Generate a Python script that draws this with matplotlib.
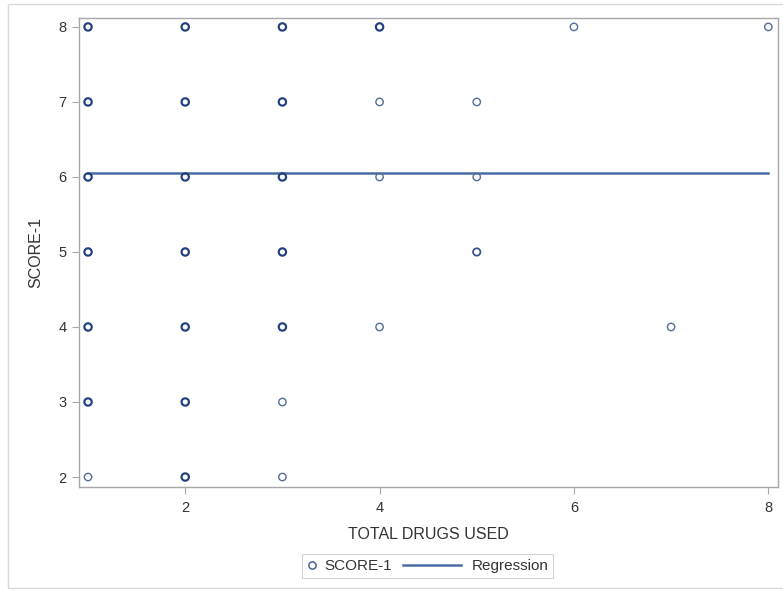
import matplotlib
matplotlib.use("Agg")
import matplotlib.pyplot as plt
from matplotlib.patches import Rectangle
from matplotlib.lines import Line2D
from matplotlib.legend_handler import HandlerLine2D
from matplotlib.colors import to_rgb
import numpy as np

plt.rcParams['font.family'] = ['Liberation Sans', 'DejaVu Sans']

# observed (drugs used, score) pairs and how many subjects share each pair
drugs = [1, 1, 1, 1, 1, 1, 1,
         2, 2, 2, 2, 2, 2, 2,
         3, 3, 3, 3, 3, 3, 3,
         4, 4, 4, 4,
         5, 5, 5,
         6, 7, 8]
score = [8, 7, 6, 5, 4, 3, 2,
         8, 7, 6, 5, 4, 3, 2,
         8, 7, 6, 5, 4, 3, 2,
         8, 7, 6, 4,
         7, 6, 5,
         8, 4, 8]
count = [3, 3, 3, 3, 3, 3, 1,
         3, 3, 3, 3, 3, 3, 3,
         3, 3, 3, 3, 3, 1, 1,
         3, 1, 1, 1,
         1, 1, 2,
         1, 1, 1]

# fitted regression line
reg_intercept = 6.05
reg_slope = 0.0
reg_range = [1, 8]

xticks = [2, 4, 6, 8]
yticks = [2, 3, 4, 5, 6, 7, 8]

dark_col = np.array(to_rgb("#1f3f7c"))
light_col = np.array(to_rgb("#536c9a"))
line_col = "#4a6ca6"
text_col = "#333333"
axis_col = "#a8a8a8"


class WideLine(HandlerLine2D):
    # legend line that reaches back into the column gap, so the marker
    # entry can keep a short handle while the line entry gets a long one
    def __init__(self, extra, trim, **kw):
        super().__init__(**kw)
        self.extra = extra
        self.trim = trim

    def create_artists(self, legend, orig_handle, xdescent, ydescent,
                       width, height, fontsize, trans):
        y = height / 2 - ydescent
        x0 = -xdescent - self.extra * fontsize
        x1 = -xdescent + width - self.trim * fontsize
        line = Line2D([x0, x1], [y, y])
        self.update_prop(line, orig_handle, legend)
        line.set_transform(trans)
        return [line]


fig = plt.figure(figsize=(7.83, 5.90), dpi=100)
ax = fig.add_axes([0.1009, 0.1746, 0.8927, 0.795])

# stacked points print heavier and darker than single ones
cnt = np.array(count, dtype=float)
w = (cnt - 1) / (cnt.max() - 1)
edge = light_col[None, :] * (1 - w[:, None]) + dark_col[None, :] * w[:, None]
ax.scatter(drugs, score, s=28, facecolors='none', edgecolors=edge,
           linewidths=1.0 + 0.55 * w, zorder=3)

rx = np.array(reg_range, dtype=float)
ax.plot(rx, reg_intercept + reg_slope * rx, color=line_col, linewidth=1.8, zorder=2)

ax.set_xlim(0.907, 8.10)
ax.set_ylim(1.867, 8.12)
ax.set_xticks(xticks)
ax.set_yticks(yticks)
ax.tick_params(axis='both', colors=axis_col, labelcolor=text_col, labelsize=10.5,
               length=5, width=0.8)
ax.tick_params(axis='x', pad=5)
ax.tick_params(axis='y', pad=4)
for sp in ax.spines.values():
    sp.set_color(axis_col)
    sp.set_linewidth(1.0)

ax.set_xlabel('TOTAL DRUGS USED', fontsize=11.5, color=text_col, labelpad=9)
ax.set_ylabel('SCORE-1', fontsize=11.5, color=text_col, labelpad=11)

mark_handle = Line2D([], [], marker='o', linestyle='none', markersize=5.2,
                     markerfacecolor='none', markeredgecolor="#4a6496",
                     markeredgewidth=1.1)
line_handle = Line2D([], [], color=line_col, linewidth=1.8)
leg = fig.legend([mark_handle, line_handle], ['SCORE-1', 'Regression'], loc='center',
                 bbox_to_anchor=(0.546, 0.0407), ncol=2, fontsize=11,
                 frameon=True, fancybox=False, handlelength=0.8,
                 handletextpad=0.35, columnspacing=4.1, borderpad=0.3,
                 handler_map={line_handle: WideLine(extra=3.34, trim=0.33)})
leg.get_frame().set_edgecolor("#c8c8c8")
leg.get_frame().set_linewidth(0.8)
for t in leg.get_texts():
    t.set_color(text_col)

# light border around the whole graph area
fig.patches.append(Rectangle((8 / 783, 2 / 590), 1.0, 584 / 590, transform=fig.transFigure,
                             fill=False, edgecolor="#d8d8d8", linewidth=1.0))

fig.savefig("out.png", dpi=100)
